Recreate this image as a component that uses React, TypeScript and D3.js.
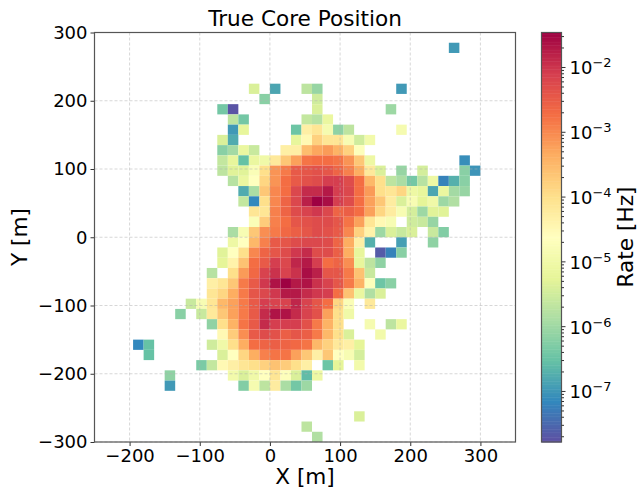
import React, { useEffect, useRef } from "react";
import * as d3 from "d3";

const _ = null;

// lower Y edge of each histogram row, lower X edge of its first bin, log10(rate) per 15 m bin
const rowY = [270, 210, 195, 180, 165, 150, 135, 120, 105, 90, 75, 60, 45, 30, 15, 0, -15, -30, -45, -60, -75, -90, -105, -120, -135, -150, -165, -180, -195, -210, -225, -270, -285, -300];
const rowX = [255, -30, -15, -75, -60, -60, -75, -75, -75, -75, -60, -45, -45, -30, -30, -60, -60, -75, -75, -90, -90, -90, -120, -135, -90, -75, -195, -180, -105, -150, -150, 120, 45, 60];
const rowLog: (number | null)[][] = [
  [-6.96],
  [-5.38, _, -6.83, _, _, -5.69, -6.07, _, _, _, _, _, _, _, -6.96],
  [-6.2, _, _, _, _, -5.5],
  [-6.39, -7.72, _, _, _, _, _, _, _, -5.38, _, _, _, _, _, _, -6.01],
  [-5.69, -6.39, _, _, _, _, _, -5.63, -5.76, -5.13],
  [-6.96, -5.19, _, _, _, _, -6.45, -4.3, -4.11, -4.87, -6.14, -5.69, _, _, _, _, -4.87],
  [-5.38, -6.77, _, _, _, _, _, -5.19, -4.49, -3.8, -4.11, -4.11, -4.81, -5.5, -4.94],
  [-6.2, -5.95, -5.13, -5.57, _, _, -4.3, -4.3, -3.55, -3.29, -3.17, -3.42, -3.8, -4.68],
  [-5.63, -5.19, -6.52, -5.13, -5.0, -4.18, -3.67, -3.23, -2.79, -2.72, -2.72, -2.79, -3.1, -3.67, -5.06, _, _, _, _, _, _, _, _, -7.08],
  [-5.69, -5.31, -5.31, -4.75, -3.99, -3.1, -2.85, -2.47, -2.41, -2.35, -2.41, -2.6, -2.91, -3.36, -4.18, -5.38, _, -6.07, _, -5.44, _, _, _, -6.2, -7.02],
  [-5.76, -5.13, -4.62, -3.86, -3.1, -2.72, -2.47, -2.35, -2.28, -2.09, -2.09, -2.28, -2.72, -3.48, -3.99, -5.69, -5.88, -6.39, -5.76, -5.06, -7.21, -6.71, -6.2],
  [-6.77, -5.88, -3.67, -2.98, -2.72, -2.22, -1.9, -1.9, -1.71, -2.09, -2.22, -2.72, -3.17, -3.99, -4.11, -3.86, -5.06, -5.19, -6.83, -5.13, -5.95, -6.07],
  [-5.63, -7.15, -3.99, -2.98, -2.6, -2.22, -1.78, -1.46, -1.59, -2.09, -2.28, -2.72, -3.23, -3.67, -4.24, -5.38, -4.81, -5.25, -5.0, -6.01, -5.82],
  [-4.11, -4.11, -2.91, -2.6, -2.28, -2.16, -2.03, -2.22, -2.6, -2.54, -2.72, -3.23, -3.86, -4.24, -4.81, -5.44, -6.01, -5.31, -5.31],
  [-4.75, -3.74, -2.91, -2.72, -2.41, -2.35, -2.28, -2.28, -2.41, -2.79, -3.23, -4.11, -4.49, -4.81, _, -5.5, -5.57, -6.07],
  [-5.88, -4.81, -3.67, -3.04, -2.85, -2.66, -2.54, -2.41, -2.28, -2.35, -2.47, -2.98, -3.8, -4.37, -6.01, -5.38, -5.57, -5.38, _, -5.57, -6.26],
  [-5.06, -4.62, -3.48, -2.91, -2.47, -2.41, -2.28, -2.22, -2.22, -2.28, -2.6, -3.36, -4.3, -6.71, _, _, -6.9, _, _, -6.14],
  [-5.31, -4.62, -3.99, -2.98, -2.6, -2.41, -2.28, -2.03, -1.9, -2.28, -2.28, -2.54, -3.36, -5.19, _, -7.65, -7.21, -6.2],
  [-5.25, -4.37, -3.61, -2.72, -2.47, -2.09, -2.22, -1.84, -1.71, -2.09, -2.72, -2.6, -3.04, -5.19, -5.69, -6.14],
  [-5.76, _, -3.99, -3.17, -2.66, -2.16, -1.97, -2.16, -1.97, -1.59, -1.78, -2.41, -2.41, -2.85, -3.61, -5.57],
  [-4.3, -4.11, -3.67, -2.85, -2.47, -2.03, -1.65, -1.46, -1.71, -1.65, -1.97, -2.16, -2.41, -2.85, -3.42, -4.68, -6.45, -6.2],
  [-4.11, -3.86, -3.36, -2.85, -2.41, -2.22, -2.03, -1.71, -1.71, -1.9, -2.03, -2.09, -2.72, -3.61, -5.13, -5.82, -5.38],
  [-5.57, -4.81, -4.11, -3.48, -3.23, -2.85, -2.47, -2.09, -2.16, -2.16, -1.84, -2.16, -2.41, -2.72, -3.86, -4.75, _, -4.18],
  [-6.2, _, -5.57, -4.18, -3.67, -3.23, -2.85, -2.47, -1.9, -1.65, -1.65, -1.9, -2.16, -2.35, -3.23, -3.99, -5.0],
  [-6.14, -3.99, -3.42, -2.79, -2.47, -1.9, -2.09, -2.09, -2.09, -2.35, -2.85, -3.42, -3.99, _, _, -4.87, _, -5.69, -5.13],
  [-4.49, -3.74, -3.04, -2.47, -2.28, -2.35, -2.54, -2.41, -2.54, -2.85, -3.48, -3.99, -5.38, _, _, -4.94],
  [-7.15, -6.52, _, _, _, _, _, -5.5, -5.0, -3.99, -3.36, -2.72, -2.6, -2.54, -2.6, -2.66, -2.79, -3.48, -3.8, -4.18, -4.3, -5.25],
  [-6.52, _, _, _, _, _, _, -5.38, -4.62, -3.86, -3.36, -2.91, -2.79, -2.79, -3.23, -3.67, -4.3, -3.67, -4.62, -4.81, -5.44],
  [-6.33, -5.63, -4.49, -4.3, -4.11, -3.99, -3.8, -3.61, -3.74, -3.99, -4.3, _, -6.45, -5.25, _, -4.94],
  [-6.14, _, _, _, _, _, -4.94, -5.38, -5.0, -4.62, -4.11, -4.68, -5.38, -6.58, -5.06],
  [-6.96, _, _, _, _, _, _, -6.26, -4.87, -5.69, -4.24, -5.88, -6.39, -6.01],
  [-5.38],
  [-5.69],
  [-5.82],
];

const xTicks = [-200, -100, 0, 100, 200, 300];
const yTicks = [-300, -200, -100, 0, 100, 200, 300];
const cbarExponents = [-2, -3, -4, -5, -6, -7];
const logMin = -7.78;
const logMax = -1.46;
const binSize = 15;

// matplotlib's Spectral_r stops
const spectral = ["#5e4fa2", "#3288bd", "#66c2a5", "#abdda4", "#e6f598", "#ffffbf", "#fee08b", "#fdae61", "#f46d43", "#d53e4f", "#9e0142"];

const font = "'DejaVu Sans', sans-serif";
const ink = "#333";

const App = () => {
  const svgRef = useRef<SVGSVGElement>(null);

  useEffect(() => {
    const svg = d3.select(svgRef.current);
    svg.selectAll("*").remove();

    const plot = { left: 94.5, right: 515.5, top: 32.5, bottom: 442 };
    const bar = { left: 541.5, right: 561.5 };

    const x = d3.scaleLinear().domain([-250, 350]).range([plot.left, plot.right]);
    const y = d3.scaleLinear().domain([-300, 300]).range([plot.bottom, plot.top]);
    const color = d3
      .scaleLinear<string>()
      .domain(spectral.map((_c, i) => logMin + ((logMax - logMin) * i) / 10))
      .range(spectral)
      .clamp(true);
    const cbar = d3
      .scaleLog()
      .domain([10 ** logMin, 10 ** logMax])
      .range([plot.bottom, plot.top]);

    // histogram cells
    const cells = rowLog.flatMap((vals, r) =>
      vals.map((v, i) => ({ x0: rowX[r] + i * binSize, y0: rowY[r], v })).filter((d) => d.v !== null)
    );
    svg
      .append("g")
      .selectAll("rect")
      .data(cells)
      .join("rect")
      .attr("x", (d) => x(d.x0))
      .attr("y", (d) => y(d.y0 + binSize))
      .attr("width", x(binSize) - x(0))
      .attr("height", y(0) - y(binSize))
      .attr("fill", (d) => color(d.v as number));

    // grid sits on top of the cells
    const grid = svg.append("g").attr("stroke", "#b0b0b0").attr("stroke-opacity", 0.5).attr("stroke-dasharray", "3,2");
    xTicks.forEach((t) => {
      grid.append("line").attr("x1", x(t)).attr("x2", x(t)).attr("y1", plot.top).attr("y2", plot.bottom);
    });
    yTicks.forEach((t) => {
      grid.append("line").attr("x1", plot.left).attr("x2", plot.right).attr("y1", y(t)).attr("y2", y(t));
    });

    // axes
    const xAxis = svg
      .append("g")
      .attr("transform", `translate(0,${plot.bottom})`)
      .call(d3.axisBottom(x).tickValues(xTicks).tickSize(4).tickPadding(3).tickFormat(d3.format("d")));
    const yAxis = svg
      .append("g")
      .attr("transform", `translate(${plot.left},0)`)
      .call(d3.axisLeft(y).tickValues(yTicks).tickSize(4).tickPadding(3).tickFormat(d3.format("d")));
    [xAxis, yAxis].forEach((a) => {
      a.select(".domain").remove();
      a.selectAll("text").attr("font-family", font).attr("font-size", 18).attr("fill", "#000");
      a.selectAll("line").attr("stroke", ink);
    });

    svg
      .append("rect")
      .attr("x", plot.left)
      .attr("y", plot.top)
      .attr("width", plot.right - plot.left)
      .attr("height", plot.bottom - plot.top)
      .attr("fill", "none")
      .attr("stroke", "#555")
      .attr("stroke-width", 1.2);

    const label = (txt: string, lx: number, ly: number, size: number, rotate = false) =>
      svg
        .append("text")
        .text(txt)
        .attr("font-family", font)
        .attr("font-size", size)
        .attr("text-anchor", "middle")
        .attr("transform", `translate(${lx},${ly})${rotate ? " rotate(-90)" : ""}`);

    label("True Core Position", 305, 26, 21.6);
    label("X [m]", 305, 484, 21.6);
    label("Y [m]", 27, 237, 21.6, true);
    label("Rate [Hz]", 633, 237, 21.6, true);

    // colorbar
    const bandH = (plot.bottom - plot.top) / 256;
    svg
      .append("g")
      .selectAll("rect")
      .data(d3.range(256))
      .join("rect")
      .attr("x", bar.left)
      .attr("width", bar.right - bar.left)
      .attr("y", (i) => plot.bottom - (i + 1) * bandH)
      .attr("height", bandH + 0.5)
      .attr("fill", (i) => color(logMin + ((logMax - logMin) * (i + 0.5)) / 256));
    svg
      .append("rect")
      .attr("x", bar.left)
      .attr("y", plot.top)
      .attr("width", bar.right - bar.left)
      .attr("height", plot.bottom - plot.top)
      .attr("fill", "none")
      .attr("stroke", "#555")
      .attr("stroke-width", 1.2);

    const cbarTicks = svg.append("g").attr("stroke", ink);
    d3.range(-8, -1).forEach((exp) => {
      d3.range(1, 10).forEach((m) => {
        const v = m * 10 ** exp;
        if (Math.log10(v) < logMin || Math.log10(v) > logMax) return;
        cbarTicks
          .append("line")
          .attr("x1", bar.right)
          .attr("x2", bar.right + (m === 1 ? 4 : 2.5))
          .attr("y1", cbar(v))
          .attr("y2", cbar(v));
      });
    });
    cbarExponents.forEach((exp) => {
      const t = svg
        .append("text")
        .attr("font-family", font)
        .attr("font-size", 18)
        .attr("x", bar.right + 8)
        .attr("y", cbar(10 ** exp) + 7);
      t.append("tspan").text("10");
      t.append("tspan").text(`\u2212${-exp}`).attr("font-size", 13).attr("dy", -7);
    });
  }, []);

  return <svg ref={svgRef} width={642} height={488} style={{ position: "absolute", left: 0, top: 0 }}></svg>;
};

export default App;
